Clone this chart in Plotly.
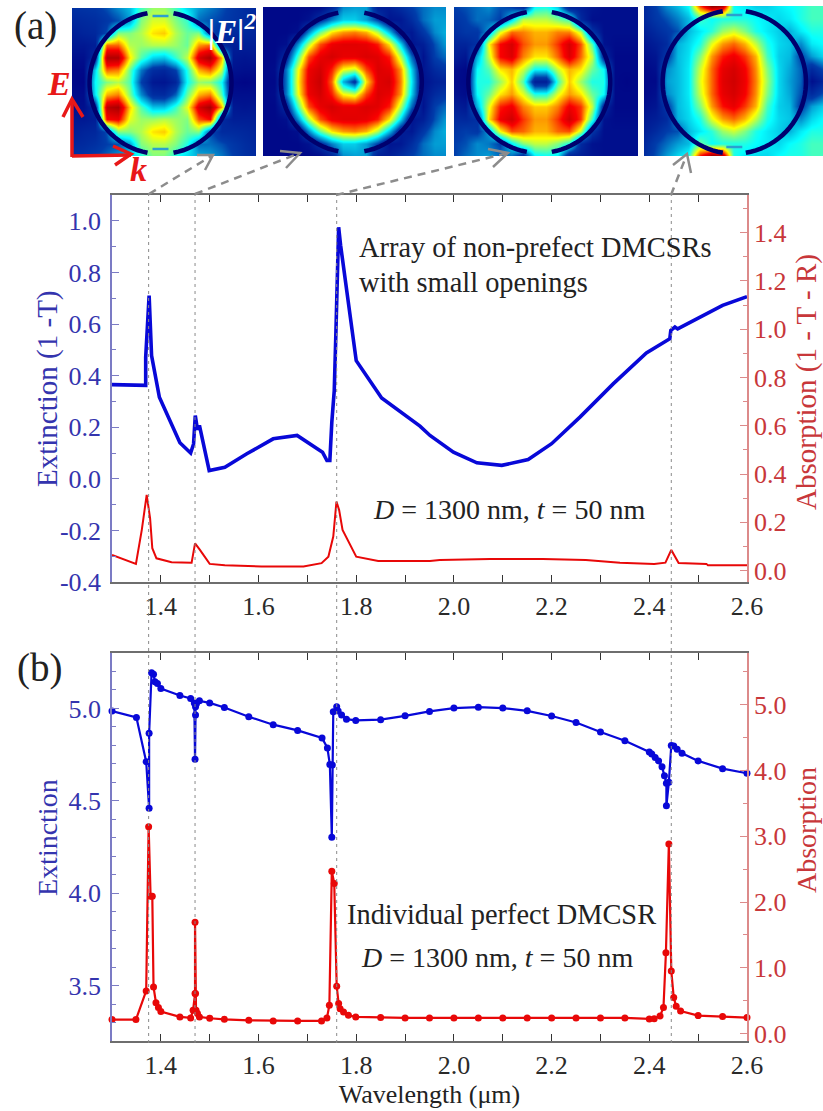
import numpy as np
import plotly.graph_objects as go

W, H = 823, 1111
FONT = "Liberation Serif"
BLUE_TXT, RED_TXT, DARK = "#3434ae", "#c8373a", "#222222"
BLUE, RED = "#0808d8", "#e80808"

# ---------- panel (a) curves ----------
a_ext_x = [1.3, 1.339, 1.369, 1.369, 1.376, 1.381, 1.397, 1.439, 1.461, 1.467, 1.4705, 1.475, 1.479, 1.499, 1.531, 1.576, 1.63, 1.679, 1.731, 1.74, 1.746, 1.75, 1.755, 1.7585, 1.761, 1.764, 1.768, 1.8, 1.852, 1.9305, 1.951, 1.999, 2.047, 2.098, 2.152, 2.2, 2.258, 2.326, 2.394, 2.442, 2.444, 2.4525, 2.458, 2.55, 2.6]
a_ext_y = [0.365, 0.364, 0.362, 0.472, 0.71, 0.478, 0.316, 0.14, 0.10, 0.135, 0.245, 0.19, 0.207, 0.032, 0.045, 0.097, 0.155, 0.168, 0.103, 0.071, 0.071, 0.219, 0.342, 0.575, 0.78, 0.975, 0.905, 0.458, 0.313, 0.204, 0.168, 0.103, 0.062, 0.052, 0.075, 0.136, 0.239, 0.368, 0.488, 0.543, 0.575, 0.588, 0.581, 0.672, 0.706]
a_abs_x = [1.3, 1.349, 1.361, 1.371, 1.378, 1.3825, 1.391, 1.422, 1.463, 1.47, 1.48, 1.5, 1.531, 1.606, 1.692, 1.729, 1.743, 1.753, 1.7595, 1.765, 1.772, 1.8, 1.845, 1.951, 1.971, 2.074, 2.182, 2.27, 2.34, 2.41, 2.433, 2.445, 2.46, 2.517, 2.52, 2.6]
a_abs_y = [0.065, 0.028, 0.169, 0.314, 0.217, 0.093, 0.051, 0.035, 0.033, 0.113, 0.086, 0.028, 0.022, 0.017, 0.017, 0.031, 0.058, 0.141, 0.286, 0.251, 0.169, 0.058, 0.04, 0.04, 0.044, 0.048, 0.048, 0.044, 0.033, 0.028, 0.033, 0.086, 0.032, 0.028, 0.022, 0.022]

# ---------- panel (b) curves ----------
b_ext_x = [1.3, 1.35, 1.37, 1.376, 1.376, 1.381, 1.385, 1.388, 1.393, 1.4, 1.439, 1.461, 1.4685, 1.47, 1.471, 1.471, 1.473, 1.479, 1.5, 1.53, 1.58, 1.63, 1.68, 1.73, 1.741, 1.746, 1.75, 1.751, 1.753, 1.76, 1.763, 1.77, 1.78, 1.799, 1.85, 1.9, 1.95, 2.0, 2.05, 2.1, 2.15, 2.2, 2.25, 2.3, 2.35, 2.4, 2.405, 2.412, 2.419, 2.426, 2.431, 2.435, 2.435, 2.44, 2.445, 2.45, 2.457, 2.467, 2.5, 2.55, 2.6]
b_ext_y = [4.986, 4.951, 4.712, 4.46, 4.865, 5.193, 5.185, 5.144, 5.135, 5.108, 5.07, 5.054, 5.03, 4.725, 4.964, 5.009, 5.027, 5.041, 5.03, 5.005, 4.955, 4.912, 4.881, 4.84, 4.786, 4.696, 4.303, 4.694, 4.982, 5.009, 4.986, 4.964, 4.942, 4.935, 4.939, 4.96, 4.984, 5.002, 5.007, 5.002, 4.987, 4.959, 4.924, 4.872, 4.825, 4.764, 4.753, 4.735, 4.716, 4.685, 4.635, 4.595, 4.473, 4.6, 4.8, 4.797, 4.779, 4.757, 4.716, 4.674, 4.649]
b_abs_x = [1.3, 1.349, 1.37, 1.375, 1.379, 1.3825, 1.385, 1.39, 1.395, 1.4, 1.439, 1.461, 1.466, 1.47, 1.47, 1.471, 1.472, 1.475, 1.479, 1.5, 1.53, 1.58, 1.63, 1.68, 1.729, 1.74, 1.745, 1.75, 1.755, 1.76, 1.764, 1.767, 1.774, 1.784, 1.799, 1.85, 1.9, 1.95, 2.0, 2.05, 2.1, 2.15, 2.2, 2.25, 2.3, 2.35, 2.4, 2.41, 2.422, 2.429, 2.434, 2.44, 2.445, 2.45, 2.455, 2.464, 2.5, 2.55, 2.6]
b_abs_y = [0.213, 0.213, 0.65, 3.147, 2.09, 2.09, 0.71, 0.47, 0.396, 0.335, 0.254, 0.239, 0.355, 0.61, 1.695, 0.61, 0.355, 0.305, 0.254, 0.234, 0.218, 0.203, 0.193, 0.193, 0.193, 0.239, 0.431, 2.47, 2.284, 0.72, 0.457, 0.38, 0.33, 0.279, 0.254, 0.244, 0.239, 0.239, 0.239, 0.239, 0.239, 0.239, 0.239, 0.239, 0.239, 0.239, 0.223, 0.228, 0.269, 0.396, 1.228, 2.883, 0.954, 0.548, 0.416, 0.345, 0.274, 0.259, 0.244]

resonances = [1.375, 1.47, 1.76, 2.445]

# ---------- axis ticks ----------
x_ticks = [1.4, 1.6, 1.8, 2.0, 2.2, 2.4, 2.6]
a_ext_ticks = [-0.4, -0.2, 0.0, 0.2, 0.4, 0.6, 0.8, 1.0]
a_abs_ticks = [0.0, 0.2, 0.4, 0.6, 0.8, 1.0, 1.2, 1.4]
b_ext_ticks = [3.5, 4.0, 4.5, 5.0]
b_abs_ticks = [0.0, 1.0, 2.0, 3.0, 4.0, 5.0]

# ---------- |E|^2 field maps, read on a coarse grid (top row first) ----------
field_1 = [
    [.16,.17,.18,.22,.28,.33,.45,.52,.52,.45,.36,.30,.26,.22,.18,.15,.13],
    [.13,.14,.15,.18,.22,.30,.50,.57,.57,.50,.44,.25,.22,.20,.17,.15,.13],
    [.10,.12,.13,.22,.50,.50,.54,.62,.64,.54,.48,.50,.22,.14,.14,.13,.12],
    [.08,.08,.10,.72,.72,.54,.52,.54,.54,.52,.48,.68,.72,.14,.10,.10,.10],
    [.05,.05,.14,.92,.92,.62,.46,.36,.34,.44,.55,.86,.93,.66,.08,.07,.08],
    [.03,.03,.36,.72,.70,.48,.26,.15,.13,.20,.42,.66,.72,.55,.06,.05,.05],
    [.03,.02,.40,.50,.54,.46,.20,.08,.07,.12,.40,.52,.50,.40,.03,.02,.03],
    [.04,.04,.38,.66,.70,.50,.28,.15,.14,.24,.48,.66,.70,.46,.05,.05,.05],
    [.05,.05,.14,.90,.93,.64,.46,.34,.34,.44,.58,.86,.93,.66,.08,.07,.08],
    [.08,.08,.10,.80,.82,.58,.52,.52,.54,.52,.50,.74,.80,.14,.10,.10,.10],
    [.10,.12,.13,.22,.50,.50,.54,.62,.64,.54,.48,.50,.22,.14,.14,.13,.12],
    [.13,.14,.16,.20,.22,.30,.50,.54,.54,.50,.42,.25,.25,.22,.18,.15,.13],
    [.16,.17,.20,.24,.30,.35,.42,.50,.50,.42,.36,.32,.30,.26,.20,.16,.14],
]
field_2 = [
    [.03,.03,.03,.03,.03,.04,.12,.28,.30,.30,.10,.10,.15,.20,.25,.28,.28],
    [.03,.03,.03,.03,.06,.16,.27,.35,.35,.30,.20,.07,.08,.15,.25,.30,.30],
    [.03,.03,.03,.05,.28,.48,.62,.68,.70,.66,.54,.34,.10,.08,.18,.28,.32],
    [.03,.03,.05,.28,.54,.74,.82,.84,.84,.83,.78,.62,.36,.07,.10,.22,.30],
    [.03,.03,.14,.45,.74,.83,.86,.83,.83,.85,.84,.78,.54,.24,.06,.20,.25],
    [.03,.04,.26,.58,.82,.86,.78,.60,.56,.75,.85,.83,.68,.35,.07,.14,.18],
    [.03,.03,.26,.60,.83,.88,.72,.32,.16,.62,.84,.86,.70,.38,.06,.10,.12],
    [.03,.04,.26,.58,.82,.86,.78,.60,.56,.75,.85,.83,.68,.35,.07,.14,.18],
    [.03,.03,.14,.45,.74,.83,.86,.83,.83,.85,.84,.78,.54,.24,.06,.20,.25],
    [.03,.03,.05,.28,.54,.74,.82,.84,.84,.83,.78,.62,.36,.07,.10,.22,.30],
    [.03,.03,.03,.05,.28,.48,.62,.68,.70,.66,.54,.34,.10,.08,.18,.28,.32],
    [.03,.03,.03,.03,.06,.16,.27,.35,.35,.30,.20,.07,.08,.15,.25,.30,.30],
    [.03,.03,.03,.03,.03,.04,.12,.28,.30,.30,.10,.10,.15,.20,.25,.28,.28],
]
field_3 = [
    [.20,.22,.25,.28,.22,.20,.14,.40,.42,.35,.10,.10,.07,.05,.05,.05,.05],
    [.17,.20,.25,.24,.20,.36,.55,.55,.55,.50,.45,.14,.05,.05,.05,.05,.05],
    [.15,.18,.18,.30,.58,.72,.70,.66,.66,.70,.70,.56,.18,.05,.05,.05,.05],
    [.12,.12,.16,.60,.80,.86,.74,.68,.68,.76,.86,.74,.46,.06,.04,.04,.04],
    [.10,.07,.32,.55,.80,.85,.70,.62,.62,.72,.85,.72,.55,.14,.03,.03,.03],
    [.05,.03,.40,.46,.62,.66,.56,.40,.40,.56,.66,.62,.48,.40,.03,.03,.03],
    [.04,.03,.42,.42,.52,.64,.46,.10,.10,.44,.64,.52,.42,.42,.03,.02,.03],
    [.06,.04,.40,.48,.62,.68,.58,.42,.42,.58,.68,.62,.48,.40,.03,.03,.03],
    [.10,.08,.32,.58,.78,.82,.70,.64,.64,.70,.82,.76,.55,.14,.03,.03,.03],
    [.14,.13,.16,.62,.82,.87,.76,.68,.68,.76,.87,.76,.44,.06,.04,.04,.04],
    [.17,.20,.18,.30,.60,.74,.72,.66,.66,.72,.74,.56,.18,.05,.05,.05,.05],
    [.20,.22,.28,.26,.20,.38,.50,.55,.55,.50,.42,.14,.06,.05,.05,.05,.05],
    [.20,.25,.28,.30,.25,.25,.14,.38,.40,.38,.10,.10,.07,.05,.05,.05,.05],
]
field_4 = [
    [.13,.20,.28,.33,.40,.75,.97,.92,.40,.38,.35,.35,.38,.40,.42,.45,.45],
    [.13,.18,.22,.27,.33,.45,.40,.42,.42,.42,.40,.38,.36,.38,.42,.45,.45],
    [.10,.14,.18,.22,.33,.38,.43,.52,.56,.50,.42,.38,.35,.32,.38,.42,.42],
    [.07,.10,.14,.32,.36,.42,.58,.68,.72,.66,.55,.42,.36,.34,.28,.38,.40],
    [.05,.07,.18,.33,.37,.50,.68,.78,.82,.76,.66,.45,.35,.33,.20,.30,.36],
    [.03,.05,.28,.33,.38,.56,.72,.83,.86,.81,.69,.50,.36,.31,.24,.14,.22],
    [.03,.03,.30,.33,.38,.58,.72,.84,.87,.82,.70,.52,.36,.30,.24,.05,.12],
    [.03,.05,.28,.33,.38,.56,.72,.83,.86,.81,.69,.50,.36,.31,.22,.14,.22],
    [.05,.07,.18,.33,.37,.50,.68,.79,.83,.76,.66,.45,.35,.33,.18,.30,.35],
    [.08,.10,.14,.32,.36,.42,.58,.68,.72,.66,.55,.42,.36,.34,.28,.36,.40],
    [.10,.14,.20,.22,.33,.38,.43,.52,.56,.50,.42,.38,.35,.32,.38,.42,.42],
    [.13,.20,.25,.30,.33,.48,.40,.42,.42,.42,.40,.38,.36,.40,.42,.45,.45],
    [.15,.22,.30,.36,.42,.80,.98,.93,.42,.38,.36,.36,.40,.42,.42,.45,.45],
]
fields = [field_1, field_2, field_3, field_4]


def fx(px):
    return px / W


def fy(py):
    return 1 - py / H


def dom_x(a, b):
    return [fx(a), fx(b)]


def dom_y(top, bottom):
    return [fy(bottom), fy(top)]


fig = go.Figure()

# field maps
boxes = [(72, 256, 8, 156), (263, 446, 7, 156), (454, 638, 7, 156), (644, 823, 6, 156)]
for i, (field, box) in enumerate(zip(fields, boxes)):
    n = i + 3
    fig.add_trace(go.Heatmap(z=field, colorscale="Jet", zmin=0, zmax=1, zsmooth="best",
                             showscale=False, hoverinfo="skip",
                             xaxis=f"x{n}", yaxis=f"y{n + 2}"))
    fig.layout[f"xaxis{n}"] = dict(domain=dom_x(box[0], box[1]), range=[0, 16], visible=False,
                                   anchor=f"y{n + 2}", automargin=False)
    fig.layout[f"yaxis{n + 2}"] = dict(domain=dom_y(box[2], box[3]), range=[12, 0], visible=False,
                                       anchor=f"x{n}", automargin=False)

# curves
fig.add_trace(go.Scatter(x=a_ext_x, y=a_ext_y, mode="lines", xaxis="x", yaxis="y",
                         line=dict(color=BLUE, width=3.6), name="Extinction (1 - T)"))
fig.add_trace(go.Scatter(x=a_abs_x, y=a_abs_y, mode="lines", xaxis="x", yaxis="y2",
                         line=dict(color=RED, width=2), name="Absorption (1 - T - R)"))
fig.add_trace(go.Scatter(x=b_ext_x, y=b_ext_y, mode="lines+markers", xaxis="x2", yaxis="y3", cliponaxis=False,
                         line=dict(color=BLUE, width=2.2), marker=dict(color=BLUE, size=7),
                         name="Extinction"))
fig.add_trace(go.Scatter(x=b_abs_x, y=b_abs_y, mode="lines+markers", xaxis="x2", yaxis="y4", cliponaxis=False,
                         line=dict(color=RED, width=2.2), marker=dict(color=RED, size=7),
                         name="Absorption"))

GRAY = "#6e6e6e"
BLUE_AX, RED_AX = "#7b7bc4", "#dc8a8a"
TICK = dict(family=FONT, size=26)


def x_axis(anchor, title=None):
    d = dict(domain=dom_x(112, 747), range=[1.3, 2.6], anchor=anchor, tickmode="array", automargin=False,
             tickvals=x_ticks, ticktext=[f"{v:.1f}" for v in x_ticks],
             ticks="inside", ticklen=7, tickwidth=1, tickcolor="#333333",
             minor=dict(tickmode="linear", tick0=1.3, dtick=0.1, ticks="inside", ticklen=4, tickcolor="#333333"),
             showline=True, linecolor=GRAY, linewidth=1.5, mirror="allticks", showgrid=False, zeroline=False,
             tickfont=dict(color="#2a2a2a", **TICK))
    if title:
        d["title"] = dict(text=title, font=dict(family=FONT, size=26, color=DARK), standoff=2)
    return d


def y_axis(domain, rng, vals, minor_dtick, minor0, color, axcolor, side, anchor, overlay=None, label_gap=4):
    d = dict(domain=domain, range=rng, side=side, anchor=anchor, tickmode="array", tickvals=vals, automargin=False,
             ticktext=[f"{v:.1f}" for v in vals], ticks="inside", ticklen=7, tickwidth=1, tickcolor=axcolor,
             minor=dict(tickmode="linear", tick0=minor0, dtick=minor_dtick, ticks="inside", ticklen=4,
                        tickcolor=axcolor),
             ticklabelstandoff=label_gap, showline=True, linecolor=axcolor, linewidth=1.5, showgrid=False,
             zeroline=False, tickfont=dict(color=color, **TICK))
    if overlay:
        d["overlaying"] = overlay
    return d


dom_a, dom_b = dom_y(195, 582), dom_y(653, 1041)
fig.update_layout(
    width=W, height=H, margin=dict(l=0, r=0, t=0, b=0, pad=0, autoexpand=False), autosize=False, showlegend=False,
    paper_bgcolor="white", plot_bgcolor="white", font=dict(family=FONT),
    xaxis=x_axis("y"),
    xaxis2=x_axis("y3", title="Wavelength (μm)"),
    yaxis=y_axis(dom_a, [-0.4, 1.1], a_ext_ticks, 0.1, -0.4, BLUE_TXT, BLUE_AX, "left", "x"),
    yaxis2=y_axis(dom_a, [-0.047, 1.556], a_abs_ticks, 0.1, 0.0, RED_TXT, RED_AX, "right", "x", overlay="y",
                  label_gap=0),
    yaxis3=y_axis(dom_b, [3.2, 5.3], b_ext_ticks, 0.1, 3.2, BLUE_TXT, BLUE_AX, "left", "x2"),
    yaxis4=y_axis(dom_b, [-0.112, 5.787], b_abs_ticks, 0.5, 0.0, RED_TXT, RED_AX, "right", "x2", overlay="y3",
                  label_gap=0),
)


def note(text, px, py, size=27, color=DARK, xanchor="left", angle=0):
    fig.add_annotation(text=text, x=fx(px), y=fy(py), xref="paper", yref="paper", xanchor=xanchor, yanchor="middle",
                       showarrow=False, textangle=angle, font=dict(family=FONT, size=size, color=color))


note("Array of non-prefect DMCSRs", 357, 248, 28.4)
note("with small openings", 357, 282, 28.4)
note("<i>D</i> = 1300 nm, <i>t</i> = 50 nm", 371, 510, 28)
note("Individual perfect DMCSR", 345, 914, 28.4)
note("<i>D</i> = 1300 nm, <i>t</i> = 50 nm", 359, 957, 28)
note("(a)", 12, 26, 39)
note("(b)", 15, 668, 39)
note("Extinction (1 -T)", 47, 389, 29, BLUE_TXT, "center", -90)
note("Absorption (1 - T - R)", 806, 382, 29, RED_TXT, "center", -90)
note("Extinction", 47, 838, 28, BLUE_TXT, "center", -90)
note("Absorption", 806, 830, 28, RED_TXT, "center", -90)
note("<b><i>E</i></b>", 59, 83, 34, "#e81818", "center")
note("<b><i>k</i></b>", 138, 170, 34, "#e81818", "center")
note("<b><i>|E|<sup>2</sup></i></b>", 206, 29, 33, "white")


def poly(points, color, width, dash="solid"):
    path = "M" + " L".join(f"{fx(a):.5f},{fy(b):.5f}" for a, b in points)
    fig.add_shape(type="path", path=path, xref="paper", yref="paper", layer="above",
                  line=dict(color=color, width=width, dash=dash))


# rings with openings at top and bottom
rings = [(160.5, 83, 71, 13), (351.3, 82, 70.5, 13), (539.3, 82, 71, 12.5), (734.3, 82, 71.7, 11.5)]
for cx, cy, r, gap in rings:
    g = np.arcsin(gap / r)
    for lo, hi in [(g, np.pi - g), (np.pi + g, 2 * np.pi - g)]:
        t = np.linspace(lo, hi, 40)
        poly(list(zip(cx + r * np.sin(t), cy - r * np.cos(t))), "#00006e", 4.5)
# slot strips in the openings
for cx, cy in [(160.5, 16), (160.5, 149), (734.3, 15), (734.3, 147)]:
    poly([(cx - 8, cy), (cx + 8, cy)], "#2b9fd0", 2.5)

# E and k directions
RA = "#e81818"
poly([(72, 157), (72, 99)], RA, 3.5)
poly([(63, 117), (72, 99), (83, 117)], RA, 3.5)
poly([(72, 156), (131, 155)], RA, 3.5)
poly([(113, 146), (131, 154), (115, 165)], RA, 3.5)

# arrows from the resonances to the maps
GA = "#8c8c8c"
arrows = [((149, 194), (213, 155), (197, 155), (205, 170)),
          ((195, 194), (300, 153), (280, 151), (286, 168)),
          ((336, 195), (508, 153), (488, 149), (493, 167)),
          ((671, 195), (687, 154), (673, 165), (691, 173))]
for a, tip, h1, h2 in arrows:
    poly([a, tip], GA, 2.5, "8px,6px")
    poly([h1, tip, h2], GA, 2.5)

# resonance guides through both panels
for w in resonances:
    fig.add_shape(type="line", x0=w, x1=w, xref="x", y0=fy(1043), y1=fy(190), yref="paper",
                  layer="above", line=dict(color="#8a8a8a", width=1, dash="3px,4px"))

fig.write_html("out.html", config={"displayModeBar": False},
               post_script="document.body.style.margin='0';document.documentElement.style.overflow='hidden';")
